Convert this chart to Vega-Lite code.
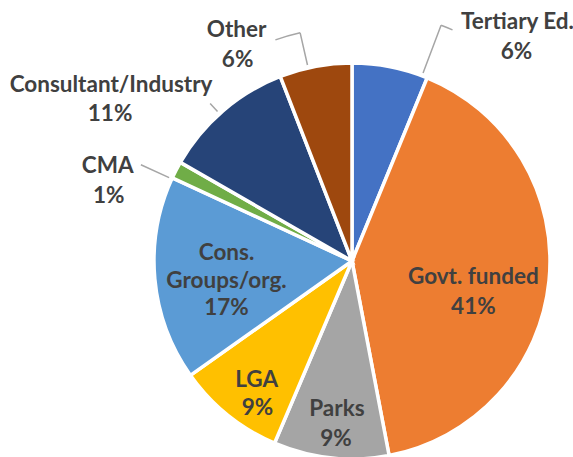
{
  "$schema": "https://vega.github.io/schema/vega-lite/v6.json",
  "width": 400,
  "height": 392,
  "autosize": {"type": "none"},
  "padding": {"left": 152, "top": 65, "right": 21, "bottom": 0},
  "background": "white",
  "data": {
    "values": [
      {"n": 1, "name": "Tertiary Ed.", "value": 0.062},
      {"n": 2, "name": "Govt. funded", "value": 0.408},
      {"n": 3, "name": "Parks", "value": 0.094},
      {"n": 4, "name": "LGA", "value": 0.088},
      {"n": 5, "name": "Cons.\nGroups/org.", "value": 0.167},
      {"n": 6, "name": "CMA", "value": 0.014},
      {"n": 7, "name": "Consultant/Industry", "value": 0.108},
      {"n": 8, "name": "Other", "value": 0.059}
    ]
  },
  "layer": [
    {
      "mark": {"type": "arc", "outerRadius": 198, "stroke": "white", "strokeWidth": 3.5},
      "encoding": {
        "theta": {"field": "value", "type": "quantitative", "stack": true},
        "order": {"field": "n", "type": "quantitative"},
        "color": {
          "field": "name", "type": "nominal", "legend": null,
          "scale": {
            "domain": ["Tertiary Ed.", "Govt. funded", "Parks", "LGA", "Cons.\nGroups/org.", "CMA", "Consultant/Industry", "Other"],
            "range": ["#4472C4", "#ED7D31", "#A5A5A5", "#FFC000", "#5B9BD5", "#70AD47", "#264478", "#9E480E"]
          }
        }
      }
    },
    {
      "transform": [{"stack": "value", "groupby": [], "sort": [{"field": "n"}], "as": ["v0", "v1"]}],
      "encoding": {
        "theta": {"field": "v0", "type": "quantitative"},
        "theta2": {"field": "v0"}
      },
      "layer": [
        {"transform": [{"filter": "datum.n === 1"}], "mark": {"type": "arc", "innerRadius": 201, "outerRadius": 252, "thetaOffset": 0.3613, "theta2Offset": 0.3613, "fill": null, "stroke": "#A6A6A6", "strokeWidth": 1.5}},
        {"transform": [{"filter": "datum.n === 1"}], "mark": {"type": "arc", "innerRadius": 252, "outerRadius": 252, "thetaOffset": 0.3613, "theta2Offset": 0.4102, "fill": null, "stroke": "#A6A6A6", "strokeWidth": 1.5}},
        {"transform": [{"filter": "datum.n === 8"}], "mark": {"type": "arc", "innerRadius": 201, "outerRadius": 234, "thetaOffset": 0.1473, "theta2Offset": 0.1473, "fill": null, "stroke": "#A6A6A6", "strokeWidth": 1.5}},
        {"transform": [{"filter": "datum.n === 8"}], "mark": {"type": "arc", "innerRadius": 234, "outerRadius": 234, "thetaOffset": 0.0373, "theta2Offset": 0.1473, "fill": null, "stroke": "#A6A6A6", "strokeWidth": 1.5}},
        {"transform": [{"filter": "datum.n === 6"}], "mark": {"type": "arc", "innerRadius": 201, "outerRadius": 232, "thetaOffset": -0.0059, "theta2Offset": -0.0059, "fill": null, "stroke": "#A6A6A6", "strokeWidth": 1.5}},
        {"transform": [{"filter": "datum.n === 7"}], "mark": {"type": "arc", "innerRadius": 201, "outerRadius": 212, "thetaOffset": 0.3163, "theta2Offset": 0.3163, "fill": null, "stroke": "#A6A6A6", "strokeWidth": 1.5}}
      ]
    },
    {
      "encoding": {
        "theta": {"field": "value", "type": "quantitative", "stack": true},
        "order": {"field": "n", "type": "quantitative"},
        "detail": {"field": "name"}
      },
      "layer": [
        {"mark": {"type": "text", "radius": 230, "dx": 121, "dy": -13}, "encoding": {"text": {"condition": {"test": "datum.n === 1", "field": "name", "type": "nominal"}, "value": ""}}},
        {"mark": {"type": "text", "radius": 230, "dx": 120, "dy": 17}, "encoding": {"text": {"condition": {"test": "datum.n === 1", "field": "value", "type": "quantitative", "format": ".0%"}, "value": ""}}},
        {"mark": {"type": "text", "radius": 125, "dx": -3, "dy": 3}, "encoding": {"text": {"condition": {"test": "datum.n === 2", "field": "name", "type": "nominal"}, "value": ""}}},
        {"mark": {"type": "text", "radius": 125, "dx": -3, "dy": 33}, "encoding": {"text": {"condition": {"test": "datum.n === 2", "field": "value", "type": "quantitative", "format": ".0%"}, "value": ""}}},
        {"mark": {"type": "text", "radius": 160, "dx": 2, "dy": -11}, "encoding": {"text": {"condition": {"test": "datum.n === 3", "field": "name", "type": "nominal"}, "value": ""}}},
        {"mark": {"type": "text", "radius": 160, "dx": 1, "dy": 19}, "encoding": {"text": {"condition": {"test": "datum.n === 3", "field": "value", "type": "quantitative", "format": ".0%"}, "value": ""}}},
        {"mark": {"type": "text", "radius": 160, "dx": 5, "dy": -6}, "encoding": {"text": {"condition": {"test": "datum.n === 4", "field": "name", "type": "nominal"}, "value": ""}}},
        {"mark": {"type": "text", "radius": 160, "dx": 6, "dy": 22}, "encoding": {"text": {"condition": {"test": "datum.n === 4", "field": "value", "type": "quantitative", "format": ".0%"}, "value": ""}}},
        {"mark": {"type": "text", "radius": 125, "dx": -1, "dy": -19}, "encoding": {"text": {"condition": {"test": "datum.n === 5", "field": "name", "type": "nominal"}, "value": ""}}},
        {"mark": {"type": "text", "radius": 125, "dx": -1, "dy": 36}, "encoding": {"text": {"condition": {"test": "datum.n === 5", "field": "value", "type": "quantitative", "format": ".0%"}, "value": ""}}},
        {"mark": {"type": "text", "radius": 230, "dx": -40, "dy": 11}, "encoding": {"text": {"condition": {"test": "datum.n === 6", "field": "name", "type": "nominal"}, "value": ""}}},
        {"mark": {"type": "text", "radius": 230, "dx": -39, "dy": 41}, "encoding": {"text": {"condition": {"test": "datum.n === 6", "field": "value", "type": "quantitative", "format": ".0%"}, "value": ""}}},
        {"mark": {"type": "text", "radius": 230, "dx": -91, "dy": -2}, "encoding": {"text": {"condition": {"test": "datum.n === 7", "field": "name", "type": "nominal"}, "value": ""}}},
        {"mark": {"type": "text", "radius": 230, "dx": -92, "dy": 27}, "encoding": {"text": {"condition": {"test": "datum.n === 7", "field": "value", "type": "quantitative", "format": ".0%"}, "value": ""}}},
        {"mark": {"type": "text", "radius": 230, "dx": -73, "dy": -5}, "encoding": {"text": {"condition": {"test": "datum.n === 8", "field": "name", "type": "nominal"}, "value": ""}}},
        {"mark": {"type": "text", "radius": 230, "dx": -72, "dy": 25}, "encoding": {"text": {"condition": {"test": "datum.n === 8", "field": "value", "type": "quantitative", "format": ".0%"}, "value": ""}}}
      ]
    }
  ],
  "config": {
    "view": {"stroke": null},
    "text": {"font": "Lato", "fontWeight": "bold", "fontSize": 22.5, "fill": "#404040", "lineBreak": "\n", "lineHeight": 28}
  }
}
